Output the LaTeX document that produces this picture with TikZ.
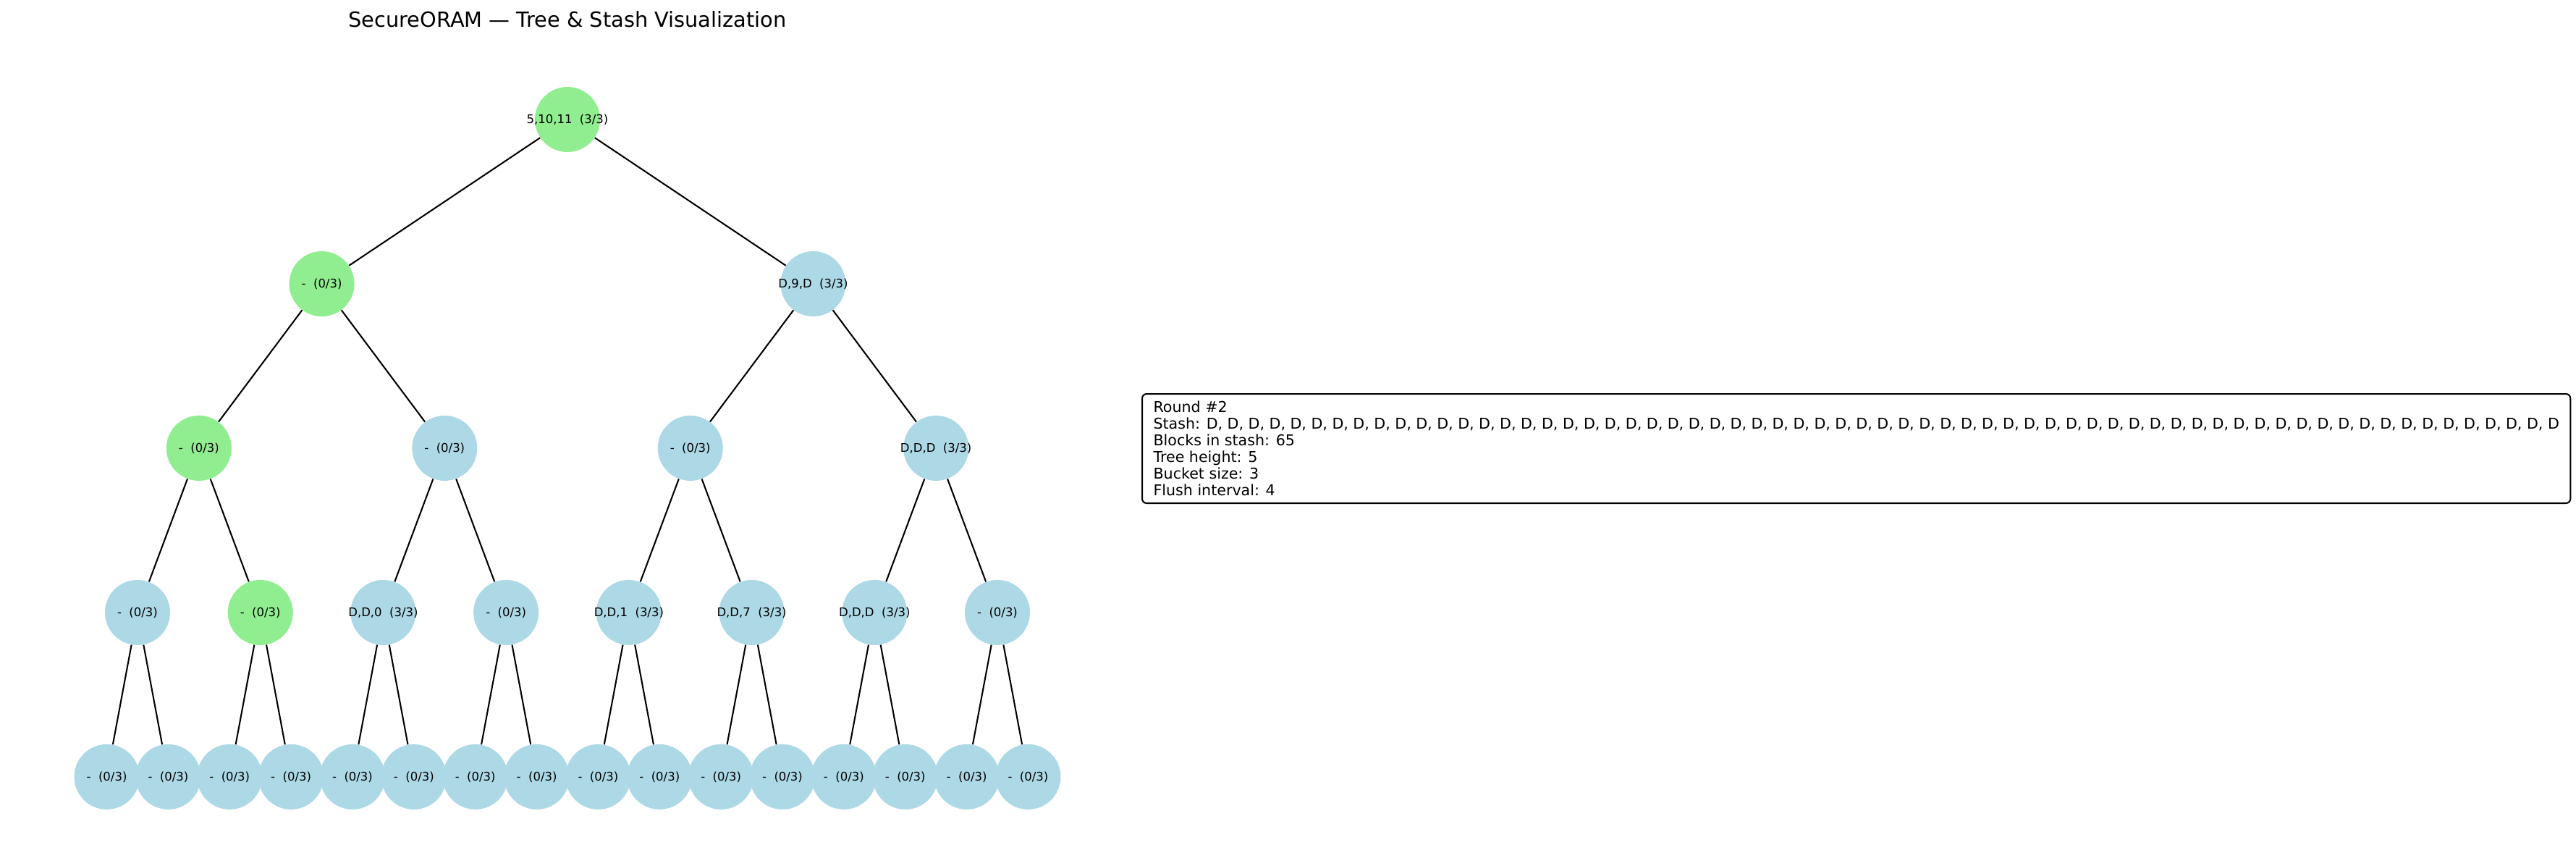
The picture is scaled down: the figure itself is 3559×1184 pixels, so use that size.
\documentclass[tikz,border=0pt]{standalone}
\usepackage{fontspec}
\setmainfont{DejaVu Sans}
\usepackage{xcolor}
\usepackage{tikz}
\usetikzlibrary{shapes.geometric, positioning}
\definecolor{lightblue}{HTML}{ADD8E6}
\definecolor{lightgreen}{HTML}{90EE90}
\tikzstyle{bucket} = [circle, minimum size=43.7pt, inner sep=0pt, fill=lightblue, font=\fontsize{8}{9.6}\selectfont, execute at begin node={\hbox to 0pt\bgroup\hss}, execute at end node={\hss\egroup}]
\tikzstyle{pathbucket} = [bucket, fill=lightgreen]
\tikzstyle{edge} = [line width=1pt, black]
\tikzstyle{infobox} = [rectangle, rounded corners=3pt, draw=black, line width=1pt, fill=white, align=left, minimum width=958pt, minimum height=73.3pt, inner sep=0pt, font=\fontsize{10}{11.2}\selectfont]
\tikzstyle{heading} = [font=\fontsize{14}{16.8}\selectfont]

\begin{document}
\begin{tikzpicture}[x=0.4855pt, y=-0.4855pt, node distance=110.2pt]

        \path[use as bounding box, fill=white] (0,0) rectangle (3559,1184);

        \node (title) [heading, anchor=base] at (784,37) {SecureORAM — Tree \& Stash Visualization};

        \node (root) [pathbucket] at (784,165) {5,10,11~~(3/3)};
        \node (l) [pathbucket, below of=root, xshift=-164.8pt] {-~~(0/3)};
        \node (r) [bucket, below of=root, xshift=164.8pt] {D,9,D~~(3/3)};
        \node (ll) [pathbucket, below of=l, xshift=-82.4pt] {-~~(0/3)};
        \node (lr) [bucket, below of=l, xshift=82.4pt] {-~~(0/3)};
        \node (rl) [bucket, below of=r, xshift=-82.4pt] {-~~(0/3)};
        \node (rr) [bucket, below of=r, xshift=82.4pt] {D,D,D~~(3/3)};
        \node (lll) [bucket, below of=ll, xshift=-41.2pt] {-~~(0/3)};
        \node (llr) [pathbucket, below of=ll, xshift=41.2pt] {-~~(0/3)};
        \node (lrl) [bucket, below of=lr, xshift=-41.2pt] {D,D,0~~(3/3)};
        \node (lrr) [bucket, below of=lr, xshift=41.2pt] {-~~(0/3)};
        \node (rll) [bucket, below of=rl, xshift=-41.2pt] {D,D,1~~(3/3)};
        \node (rlr) [bucket, below of=rl, xshift=41.2pt] {D,D,7~~(3/3)};
        \node (rrl) [bucket, below of=rr, xshift=-41.2pt] {D,D,D~~(3/3)};
        \node (rrr) [bucket, below of=rr, xshift=41.2pt] {-~~(0/3)};
        \node (llll) [bucket, below of=lll, xshift=-20.6pt] {-~~(0/3)};
        \node (lllr) [bucket, below of=lll, xshift=20.6pt] {-~~(0/3)};
        \node (llrl) [bucket, below of=llr, xshift=-20.6pt] {-~~(0/3)};
        \node (llrr) [bucket, below of=llr, xshift=20.6pt] {-~~(0/3)};
        \node (lrll) [bucket, below of=lrl, xshift=-20.6pt] {-~~(0/3)};
        \node (lrlr) [bucket, below of=lrl, xshift=20.6pt] {-~~(0/3)};
        \node (lrrl) [bucket, below of=lrr, xshift=-20.6pt] {-~~(0/3)};
        \node (lrrr) [bucket, below of=lrr, xshift=20.6pt] {-~~(0/3)};
        \node (rlll) [bucket, below of=rll, xshift=-20.6pt] {-~~(0/3)};
        \node (rllr) [bucket, below of=rll, xshift=20.6pt] {-~~(0/3)};
        \node (rlrl) [bucket, below of=rlr, xshift=-20.6pt] {-~~(0/3)};
        \node (rlrr) [bucket, below of=rlr, xshift=20.6pt] {-~~(0/3)};
        \node (rrll) [bucket, below of=rrl, xshift=-20.6pt] {-~~(0/3)};
        \node (rrlr) [bucket, below of=rrl, xshift=20.6pt] {-~~(0/3)};
        \node (rrrl) [bucket, below of=rrr, xshift=-20.6pt] {-~~(0/3)};
        \node (rrrr) [bucket, below of=rrr, xshift=20.6pt] {-~~(0/3)};

        \node (stashInfo) [infobox, anchor=north west] at (1577,543) {Round \#2\\Stash: D, D, D, D, D, D, D, D, D, D, D, D, D, D, D, D, D, D, D, D, D, D, D, D, D, D, D, D, D, D, D, D, D, D, D, D, D, D, D, D, D, D, D, D, D, D, D, D, D, D, D, D, D, D, D, D, D, D, D, D, D, D, D, D, D\\Blocks in stash: 65\\Tree height: 5\\Bucket size: 3\\Flush interval: 4};

        \draw [edge] (root) -- (l);
        \draw [edge] (root) -- (r);
        \draw [edge] (l) -- (ll);
        \draw [edge] (l) -- (lr);
        \draw [edge] (r) -- (rl);
        \draw [edge] (r) -- (rr);
        \draw [edge] (ll) -- (lll);
        \draw [edge] (ll) -- (llr);
        \draw [edge] (lr) -- (lrl);
        \draw [edge] (lr) -- (lrr);
        \draw [edge] (rl) -- (rll);
        \draw [edge] (rl) -- (rlr);
        \draw [edge] (rr) -- (rrl);
        \draw [edge] (rr) -- (rrr);
        \draw [edge] (lll) -- (llll);
        \draw [edge] (lll) -- (lllr);
        \draw [edge] (llr) -- (llrl);
        \draw [edge] (llr) -- (llrr);
        \draw [edge] (lrl) -- (lrll);
        \draw [edge] (lrl) -- (lrlr);
        \draw [edge] (lrr) -- (lrrl);
        \draw [edge] (lrr) -- (lrrr);
        \draw [edge] (rll) -- (rlll);
        \draw [edge] (rll) -- (rllr);
        \draw [edge] (rlr) -- (rlrl);
        \draw [edge] (rlr) -- (rlrr);
        \draw [edge] (rrl) -- (rrll);
        \draw [edge] (rrl) -- (rrlr);
        \draw [edge] (rrr) -- (rrrl);
        \draw [edge] (rrr) -- (rrrr);

    \end{tikzpicture}
\end{document}
